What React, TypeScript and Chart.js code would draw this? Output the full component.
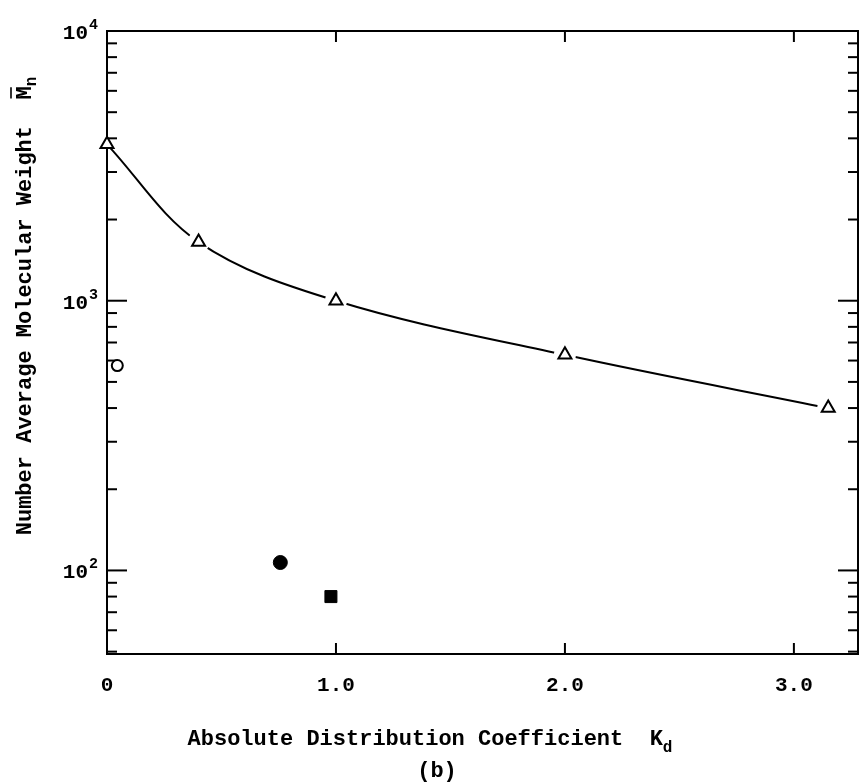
import React, { useEffect, useRef } from "react";
import { Chart, registerables } from "chart.js";

Chart.register(...registerables);

// Absolute distribution coefficient Kd vs number-average molecular weight Mn
const kdTriangle = [0, 0.4, 1.0, 2.0, 3.15];
const mnTriangle = [3800, 1650, 1000, 630, 400];
const kdOpenCircle = [0.045];
const mnOpenCircle = [575];
const kdFilledCircle = [0.757];
const mnFilledCircle = [107];
const kdSquare = [0.978];
const mnSquare = [80];

const xTickValues = [0, 1, 2, 3];
const xTickLabels = ["0", "1.0", "2.0", "3.0"];
const yDecadeValues = [100, 1000, 10000];
const yDecadeExponents = ["2", "3", "4"];

const X_MIN = 0;
const X_MAX = 3.28;
const Y_MIN = 49;
const Y_MAX = 10000;

const xTitle = "Absolute Distribution Coefficient  K";
const xTitleSub = "d";
const yTitle = "Number Average Molecular Weight  M";
const yTitleSub = "n";
const panelLabel = "(b)";

const FAMILY = '"Liberation Mono", "DejaVu Sans Mono", monospace';
const font = (px: number) => `bold ${px}px ${FAMILY}`;

const pts = (xs: number[], ys: number[]) => xs.map((x, i) => ({ x, y: ys[i] }));

const framePlugin = {
  id: "frame",
  beforeDatasetsDraw(chart: any) {
    const { ctx, chartArea: a, scales } = chart;
    const x = scales.x;
    const y = scales.y;
    ctx.save();
    ctx.strokeStyle = "#000";
    ctx.lineWidth = 2;
    ctx.strokeRect(a.left, a.top, a.right - a.left, a.bottom - a.top);
    const line = (x1: number, y1: number, x2: number, y2: number) => {
      ctx.beginPath();
      ctx.moveTo(x1, y1);
      ctx.lineTo(x2, y2);
      ctx.stroke();
    };
    for (let e = 1; e <= 4; e++) {
      for (let m = 1; m <= 9; m++) {
        const v = m * Math.pow(10, e);
        if (v < Y_MIN || v > Y_MAX) continue;
        const py = y.getPixelForValue(v);
        const len = m === 1 ? 20 : 10;
        line(a.left, py, a.left + len, py);
        line(a.right, py, a.right - len, py);
      }
    }
    xTickValues.forEach((v) => {
      if (v <= X_MIN) return;
      const px = x.getPixelForValue(v);
      line(px, a.bottom, px, a.bottom - 11);
      line(px, a.top, px, a.top + 11);
    });
    ctx.restore();
  },
  afterDraw(chart: any) {
    const { ctx, scales, chartArea: a } = chart;
    const x = scales.x;
    const y = scales.y;
    ctx.save();
    ctx.fillStyle = "#000";
    ctx.strokeStyle = "#000";
    ctx.textBaseline = "alphabetic";

    // x tick labels
    ctx.font = font(21);
    ctx.textAlign = "center";
    xTickValues.forEach((v, i) => {
      ctx.fillText(xTickLabels[i], x.getPixelForValue(v), a.bottom + 37);
    });

    // y decade labels 10^n
    yDecadeValues.forEach((v, i) => {
      const py = y.getPixelForValue(v);
      ctx.font = font(21);
      ctx.textAlign = "right";
      ctx.fillText("10", 88, py + 8);
      ctx.font = font(15);
      ctx.textAlign = "left";
      ctx.fillText(yDecadeExponents[i], 89, py - 2);
    });

    // x title with subscript
    ctx.textAlign = "left";
    ctx.font = font(22);
    const wm = ctx.measureText(xTitle).width;
    ctx.font = font(16);
    const ws = ctx.measureText(xTitleSub).width;
    const sx = 430 - (wm + ws) / 2;
    ctx.font = font(22);
    ctx.fillText(xTitle, sx, 745);
    ctx.font = font(16);
    ctx.fillText(xTitleSub, sx + wm, 752);

    // panel label
    ctx.font = font(22);
    ctx.textAlign = "center";
    ctx.fillText(panelLabel, 437, 777);

    // y title rotated
    ctx.save();
    ctx.translate(31, 306);
    ctx.rotate(-Math.PI / 2);
    ctx.textAlign = "left";
    ctx.font = font(22);
    const ym = ctx.measureText(yTitle).width;
    const mw = ctx.measureText("M").width;
    ctx.font = font(16);
    const ys = ctx.measureText(yTitleSub).width;
    const st = -(ym + ys) / 2;
    ctx.font = font(22);
    ctx.fillText(yTitle, st, 0);
    ctx.font = font(16);
    ctx.fillText(yTitleSub, st + ym, 5);
    ctx.lineWidth = 1.6;
    ctx.beginPath();
    ctx.moveTo(st + ym - mw + 1, -20);
    ctx.lineTo(st + ym - 1, -20);
    ctx.stroke();
    ctx.restore();

    ctx.restore();
  },
};

export default function App() {
  const ref = useRef<HTMLCanvasElement | null>(null);

  useEffect(() => {
    document.body.style.margin = "0";
    const canvas = ref.current;
    if (!canvas) return;
    const triData = pts(kdTriangle, mnTriangle);
    const chart = new Chart(canvas, {
      type: "scatter",
      data: {
        datasets: [
          {
            label: "curve",
            data: triData,
            showLine: true,
            borderColor: "#000",
            borderWidth: 2,
            pointRadius: 0,
            tension: 0.35,
            order: 4,
          } as any,
          {
            label: "gap",
            data: triData,
            showLine: false,
            pointRadius: (c: any) => (c.dataIndex === 0 ? 0 : 11),
            pointBackgroundColor: "#fff",
            pointBorderWidth: 0,
            pointBorderColor: "#fff",
            order: 3,
          } as any,
          {
            label: "triangles",
            data: triData,
            showLine: false,
            pointStyle: "triangle",
            pointRadius: 7.5,
            pointBackgroundColor: "#fff",
            pointBorderColor: "#000",
            pointBorderWidth: 2,
            clip: false,
            order: 1,
          } as any,
          {
            label: "open circle",
            data: pts(kdOpenCircle, mnOpenCircle),
            pointStyle: "circle",
            pointRadius: 5.5,
            pointBackgroundColor: "#fff",
            pointBorderColor: "#000",
            pointBorderWidth: 2,
            clip: false,
            order: 1,
          } as any,
          {
            label: "filled circle",
            data: pts(kdFilledCircle, mnFilledCircle),
            pointStyle: "circle",
            pointRadius: 7,
            pointBackgroundColor: "#000",
            pointBorderColor: "#000",
            pointBorderWidth: 1,
            order: 1,
          } as any,
          {
            label: "square",
            data: pts(kdSquare, mnSquare),
            pointStyle: "rect",
            pointRadius: 8.5,
            pointBackgroundColor: "#000",
            pointBorderColor: "#000",
            pointBorderWidth: 1,
            order: 1,
          } as any,
        ],
      },
      options: {
        responsive: false,
        animation: false,
        devicePixelRatio: 1,
        events: [],
        layout: { autoPadding: false, padding: { top: 31, right: 2, left: 0, bottom: 0 } },
        plugins: {
          legend: { display: false },
          tooltip: { enabled: false },
        },
        scales: {
          x: {
            type: "linear",
            min: X_MIN,
            max: X_MAX,
            afterBuildTicks: (s: any) => {
              s.ticks = xTickValues.map((v) => ({ value: v }));
            },
            afterFit: (s: any) => {
              s.height = 128;
              s.paddingLeft = 0;
              s.paddingRight = 0;
            },
            grid: { display: false, drawTicks: false },
            border: { display: false },
            ticks: { display: false },
          },
          y: {
            type: "logarithmic",
            min: Y_MIN,
            max: Y_MAX,
            afterFit: (s: any) => {
              s.width = 107;
              s.paddingTop = 0;
              s.paddingBottom = 0;
            },
            grid: { display: false, drawTicks: false },
            border: { display: false },
            ticks: { display: false },
          },
        },
      } as any,
      plugins: [framePlugin],
    });
    return () => chart.destroy();
  }, []);

  return (
    <div style={{ width: 860, height: 782, background: "#fff" }}>
      <canvas ref={ref} width={860} height={782} style={{ display: "block" }} />
    </div>
  );
}
